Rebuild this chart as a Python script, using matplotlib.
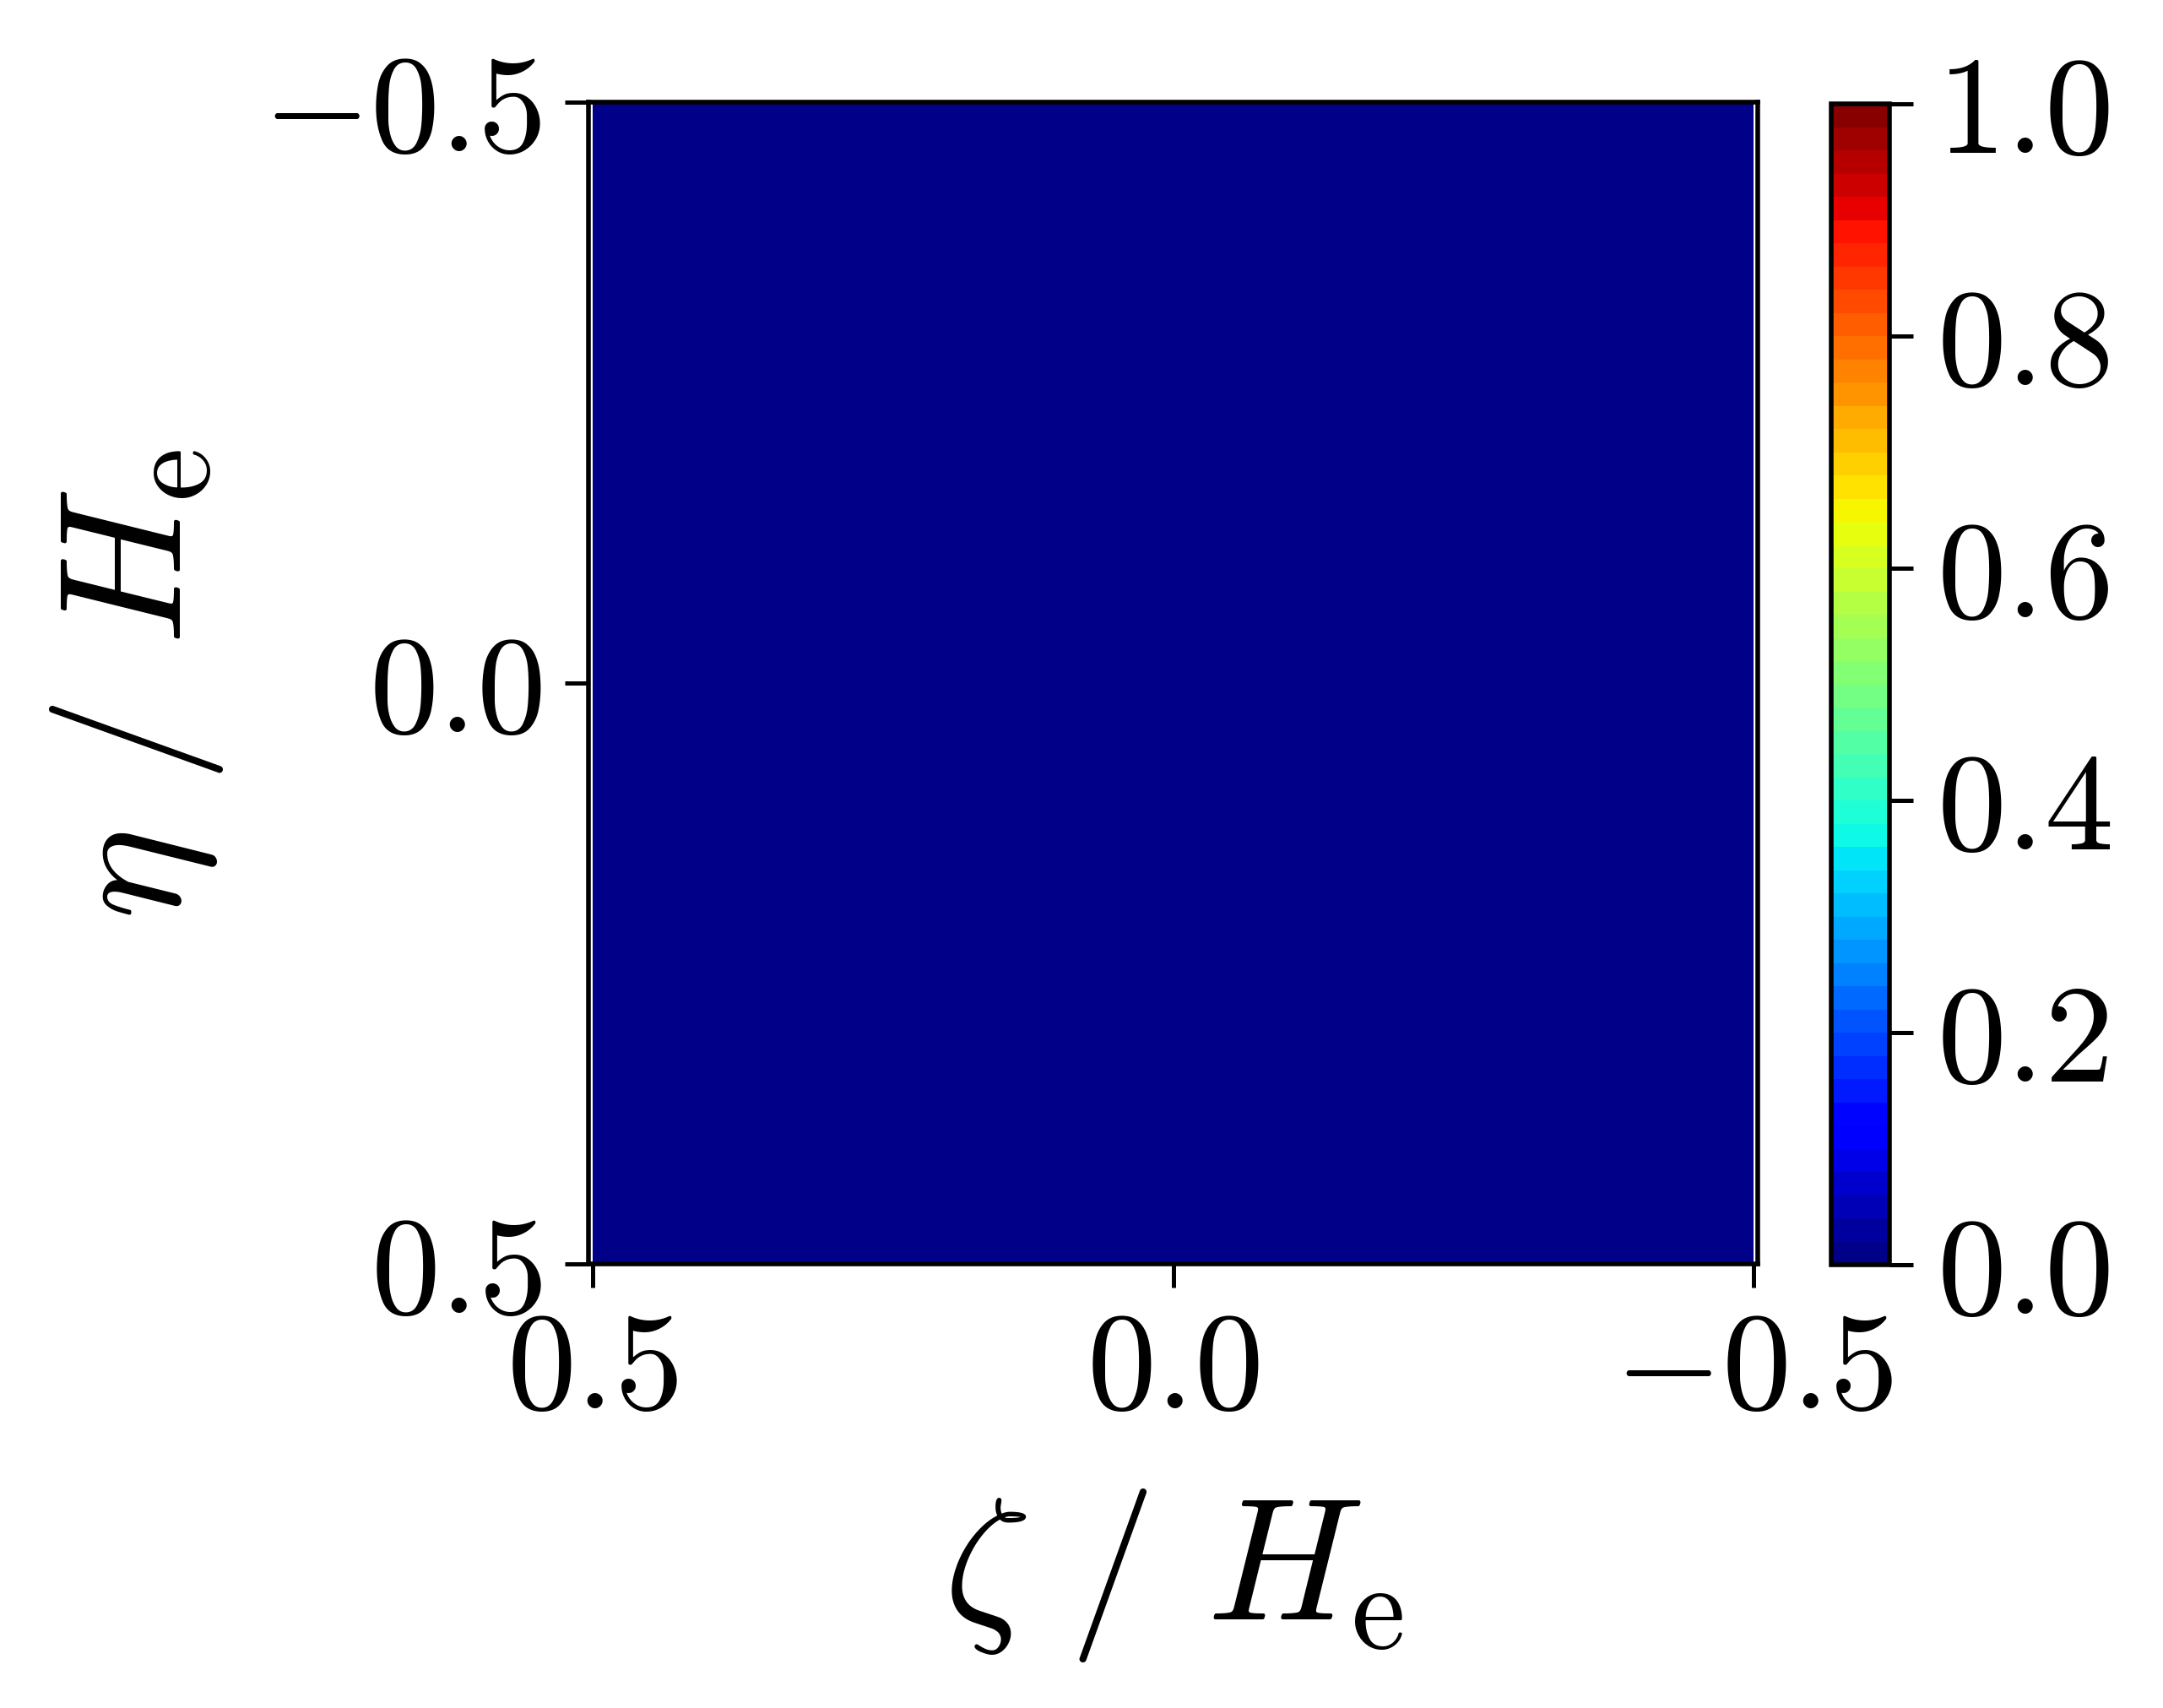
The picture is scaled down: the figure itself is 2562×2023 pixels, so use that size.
import numpy as np
import matplotlib
matplotlib.use("Agg")
import matplotlib.pyplot as plt

plt.rcParams['mathtext.fontset'] = 'cm'
plt.rcParams['font.family'] = 'serif'
plt.rcParams['font.serif'] = ['cmr10', 'DejaVu Serif']
plt.rcParams['axes.formatter.use_mathtext'] = True

# grid of the field (normalised coordinates), value is 0 everywhere
zeta = np.array([-0.5, 0.5])
eta = np.array([-0.5, 0.5])
field = np.array([[0.0, 0.0],
                  [0.0, 0.0]])

levels = np.linspace(0.0, 1.0, 51)
xticks = [0.5, 0.0, -0.5]
yticks = [-0.5, 0.0, 0.5]
cbticks = [0.0, 0.2, 0.4, 0.6, 0.8, 1.0]

tick_fs = 29.5
label_fs = 37

fig = plt.figure(figsize=(2562/400, 2024/400), dpi=400)
ax = fig.add_axes([697/2562, 1 - 1498/2024, (2082-697)/2562, (1498-122)/2024])
cax = fig.add_axes([2169/2562, 1 - 1499/2024, 69/2562, (1499-124)/2024])

Z, E = np.meshgrid(zeta, eta)
cs = ax.contourf(Z, E, field, levels=levels, cmap='jet')

ax.set_xlim(0.5036, -0.5036)
ax.set_ylim(0.5, -0.5)
ax.set_xticks(xticks)
ax.set_yticks(yticks)
ax.set_xticklabels([r'$%.1f$' % v if v != 0 else r'$0.0$' for v in xticks])
ax.set_yticklabels([r'$%.1f$' % v if v != 0 else r'$0.0$' for v in yticks])
ax.tick_params(labelsize=tick_fs, length=5, width=0.9, pad=5)
for s in ax.spines.values():
    s.set_linewidth(1.0)

ax.set_xlabel(r'$\zeta\ /\ H_\mathrm{e}$', fontsize=label_fs, labelpad=11)
ax.set_ylabel(r'$\eta\ /\ H_\mathrm{e}$', fontsize=label_fs, labelpad=8)

cb = fig.colorbar(cs, cax=cax, ticks=cbticks)
cb.ax.set_yticklabels([r'$%.1f$' % v for v in cbticks])
cb.ax.tick_params(labelsize=tick_fs, length=5, width=0.9, pad=5)
cb.outline.set_linewidth(1.0)

fig.savefig('out.png', dpi=400)
